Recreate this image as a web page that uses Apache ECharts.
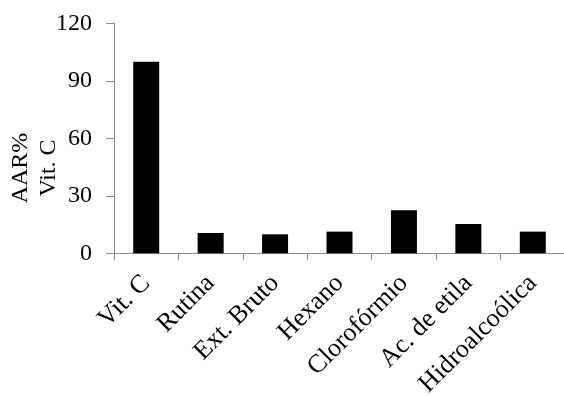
<!DOCTYPE html>
<html><head><meta charset="utf-8">
<script src="https://cdn.jsdelivr.net/npm/echarts@6/dist/echarts.min.js"></script>
<style>html,body{margin:0;padding:0;background:#fff}#c{width:564px;height:396px}</style>
</head><body><div id="c"></div>
<script>
const categories = ["Vit. C", "Rutina", "Ext. Bruto", "Hexano", "Clorofórmio", "Ac. de etila", "Hidroalcoólica"];
const values = [100, 10.6, 9.9, 11.3, 22.4, 15.3, 11.3];
const yTicks = { min: 0, max: 120, interval: 30 };
const yName = "AAR%\nVit. C";

const font = "'Liberation Serif', 'Times New Roman', serif";
const axisColor = "#8a8a8a";
const chart = echarts.init(document.getElementById('c'), null, { renderer: 'canvas' });
chart.setOption({
  animation: false,
  grid: { left: 114, top: 23.3, width: 451, bottom: 142.7, containLabel: false, outerBoundsMode: 'none' },
  xAxis: {
    type: 'category', data: categories, boundaryGap: true,
    axisLine: { show: true, lineStyle: { color: axisColor, width: 1 } },
    axisTick: { show: true, length: 7, alignWithLabel: false, lineStyle: { color: axisColor } },
    axisLabel: { rotate: 45, margin: 26, color: '#000', fontFamily: font, fontSize: 26, interval: 0 },
    splitLine: { show: false }
  },
  yAxis: {
    type: 'value', min: yTicks.min, max: yTicks.max, interval: yTicks.interval,
    axisLine: { show: true, lineStyle: { color: axisColor, width: 1 } },
    axisTick: { show: true, length: 8, lineStyle: { color: axisColor } },
    axisLabel: { margin: 22, color: '#000', fontFamily: font, fontSize: 24 },
    splitLine: { show: false }
  },
  graphic: [{
    type: 'text', x: 35, y: 168, rotation: Math.PI / 2,
    style: { text: yName, fill: '#000', font: '24px ' + font, textAlign: 'center', textVerticalAlign: 'middle', lineHeight: 28 }
  }],
  series: [{
    type: 'bar', data: values, barWidth: 26,
    itemStyle: { color: '#000' }
  }]
});
</script></body></html>
